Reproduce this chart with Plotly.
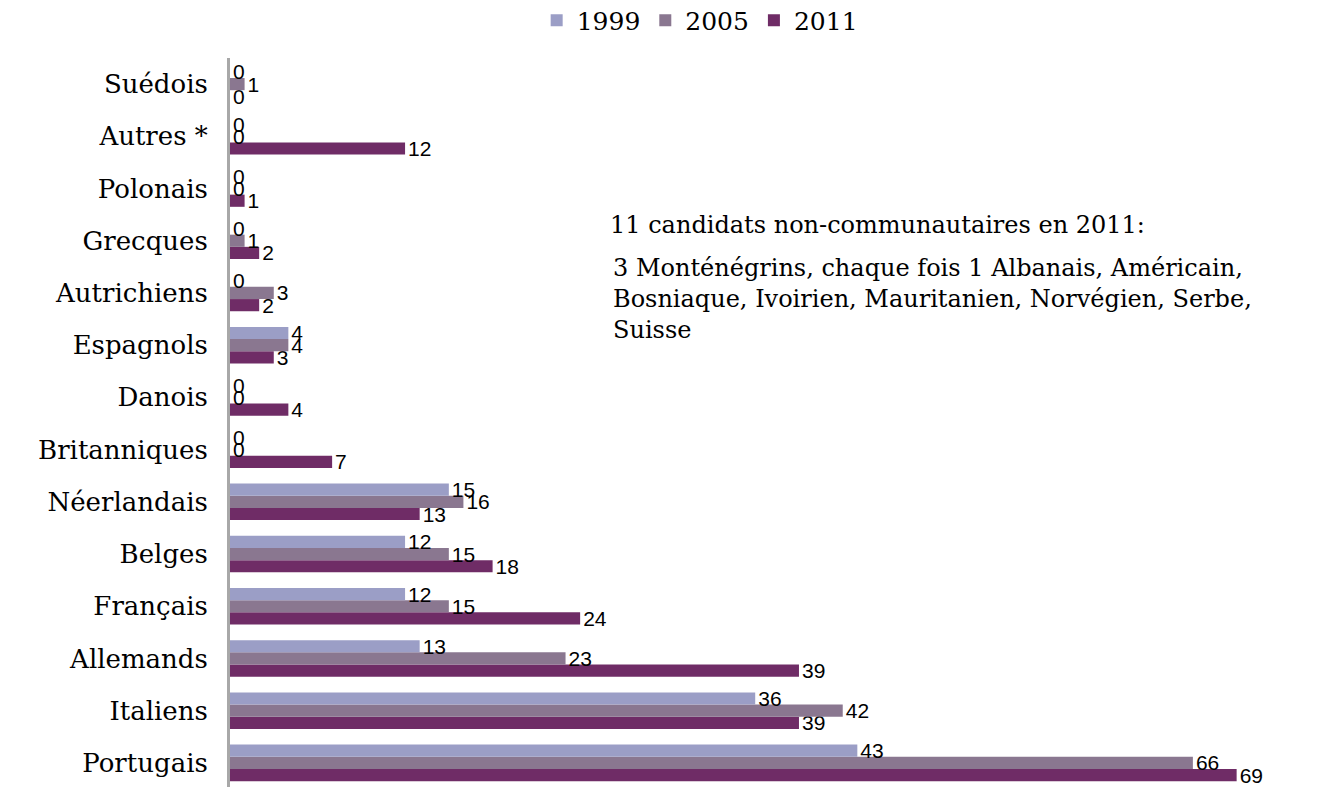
"""Grouped horizontal bars: candidates by nationality, 1999 / 2005 / 2011."""

import plotly.graph_objects as go

categories = [
    "Portugais", "Italiens", "Allemands", "Français", "Belges", "Néerlandais",
    "Britanniques", "Danois", "Espagnols", "Autrichiens", "Grecques",
    "Polonais", "Autres *", "Suédois",
]
v1999 = [43, 36, 13, 12, 12, 15, 0, 0, 4, 0, 0, 0, 0, 0]
v2005 = [66, 42, 23, 15, 15, 16, 0, 0, 4, 3, 1, 0, 0, 1]
v2011 = [69, 39, 39, 24, 18, 13, 7, 4, 3, 2, 2, 1, 12, 0]

note_title = "11 candidats non-communautaires en 2011:"
note_lines = [
    "3 Monténégrins, chaque fois 1 Albanais, Américain,",
    "Bosniaque, Ivoirien, Mauritanien, Norvégien, Serbe,",
    "Suisse",
]

series = [
    ("2011", v2011, "#6f2c66"),
    ("2005", v2005, "#8a7790"),
    ("1999", v1999, "#9b9ec6"),
]

fig = go.Figure()
for name, vals, colour in series:
    fig.add_trace(
        go.Bar(
            y=categories,
            x=vals,
            name=name,
            orientation="h",
            marker=dict(color=colour, line=dict(width=0)),
            text=vals,
            textposition="outside",
            constraintext="none",
            textfont=dict(family="Liberation Sans, Arial", size=21, color="black"),
            cliponaxis=False,
        )
    )

fig.add_annotation(
    x=0.355, y=0.772, xref="paper", yref="paper",
    text=note_title, showarrow=False, xanchor="left", yanchor="middle",
    font=dict(family="DejaVu Serif", size=24, color="black"),
)
fig.add_annotation(
    x=0.358, y=0.67, xref="paper", yref="paper",
    text="<br>".join(note_lines), showarrow=False, xanchor="left", yanchor="middle",
    align="left",
    font=dict(family="DejaVu Serif", size=24, color="black"),
)

fig.update_layout(
    width=1327, height=787,
    barmode="group", bargap=0.3, bargroupgap=0,
    plot_bgcolor="white", paper_bgcolor="white",
    margin=dict(l=222, r=40, t=50, b=6, autoexpand=False),
    legend=dict(
        orientation="h", x=0.441, xanchor="center", y=1.02, yanchor="bottom",
        traceorder="reversed",
        font=dict(family="DejaVu Serif", size=25, color="black"),
    ),
    xaxis=dict(range=[0, 73], visible=False),
    yaxis=dict(
        showline=True, linecolor="#a8a8a8", linewidth=3,
        ticks="", showgrid=False, automargin=False,
        tickfont=dict(family="DejaVu Serif", size=26, color="black"),
        ticklabelstandoff=14,
    ),
)

fig.write_html("out.html")
